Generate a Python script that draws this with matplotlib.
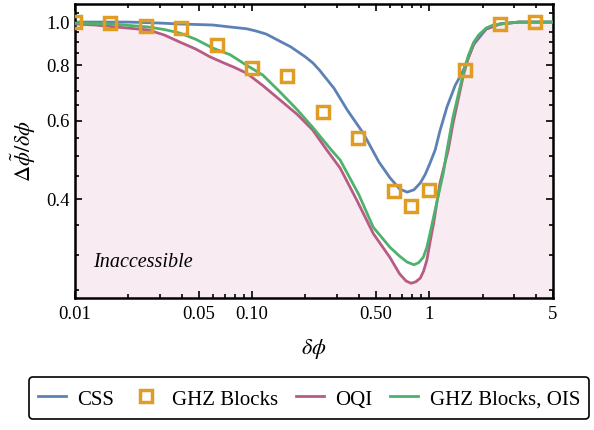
import numpy as np
import matplotlib
matplotlib.use('Agg')
import matplotlib.pyplot as plt
from matplotlib.ticker import FixedLocator, FixedFormatter, NullFormatter

# values (log-log axes)
css_x = [0.01, 0.02, 0.03, 0.039, 0.06, 0.075, 0.093, 0.105, 0.12, 0.144, 0.165, 0.2,
         0.22, 0.24, 0.29, 0.345, 0.424, 0.52, 0.60, 0.68, 0.75, 0.82, 0.89, 0.95,
         1.01, 1.08, 1.15, 1.26, 1.4, 1.56, 1.78, 2.1, 2.5, 3.2, 5.0]
css_y = [1.0, 1.0, 0.995, 0.99, 0.985, 0.975, 0.966, 0.955, 0.94, 0.905, 0.88, 0.835,
         0.81, 0.78, 0.71, 0.634, 0.563, 0.485, 0.447, 0.422, 0.415, 0.42, 0.435, 0.455,
         0.482, 0.516, 0.57, 0.645, 0.72, 0.78, 0.89, 0.965, 0.99, 1.0, 1.0]

ghz_x = [0.01, 0.0158, 0.0251, 0.0398, 0.0631, 0.1, 0.158, 0.251, 0.398, 0.631,
         0.794, 1.0, 1.585, 2.512, 3.981]
ghz_y = [1.0, 0.995, 0.98, 0.968, 0.89, 0.79, 0.756, 0.628, 0.549, 0.417,
         0.386, 0.42, 0.78, 0.99, 1.0]

oqi_x = [0.01, 0.013, 0.017, 0.026, 0.032, 0.039, 0.048, 0.058, 0.069, 0.08, 0.093,
         0.115, 0.144, 0.18, 0.22, 0.264, 0.314, 0.39, 0.483, 0.60, 0.68, 0.74, 0.79,
         0.84, 0.89, 0.93, 0.97, 1.01, 1.06, 1.15, 1.28, 1.36, 1.56, 1.66, 1.78, 1.9,
         2.1, 2.5, 3.2, 5.0]
oqi_y = [0.99, 0.985, 0.975, 0.96, 0.935, 0.902, 0.87, 0.835, 0.81, 0.79, 0.768,
         0.72, 0.668, 0.62, 0.572, 0.516, 0.47, 0.398, 0.335, 0.296, 0.272, 0.262, 0.259,
         0.261, 0.266, 0.276, 0.292, 0.32, 0.354, 0.435, 0.516, 0.59, 0.76, 0.83, 0.89, 0.93,
         0.965, 0.99, 1.0, 1.0]

ois_x = [0.01, 0.016, 0.026, 0.032, 0.039, 0.048, 0.06, 0.075, 0.093, 0.115, 0.144,
         0.18, 0.22, 0.28, 0.314, 0.40, 0.483, 0.60, 0.68, 0.75, 0.82, 0.87, 0.925,
         0.97, 1.01, 1.11, 1.2, 1.26, 1.36, 1.56, 1.66, 1.78, 1.9, 2.1, 2.3, 2.5,
         3.2, 5.0]
ois_y = [0.995, 0.99, 0.975, 0.962, 0.945, 0.915, 0.874, 0.845, 0.80, 0.76, 0.696,
         0.635, 0.58, 0.516, 0.49, 0.41, 0.346, 0.312, 0.298, 0.289, 0.285, 0.288, 0.296,
         0.312, 0.335, 0.398, 0.457, 0.516, 0.61, 0.77, 0.84, 0.90, 0.935, 0.97, 0.985, 0.99,
         1.0, 1.0]

xticks = [0.01, 0.05, 0.1, 0.5, 1, 5]
xticklabels = ['0.01', '0.05', '0.10', '0.50', '1', '5']
yticks = [0.4, 0.6, 0.8, 1.0]
yticklabels = ['0.4', '0.6', '0.8', '1.0']

plt.rcParams['font.family'] = ['Liberation Serif', 'DejaVu Serif']
plt.rcParams['mathtext.fontset'] = 'stix'

blue = '#5E81B5'
orange = '#E19C24'
red = '#B85B85'
green = '#4DB26B'

fig = plt.figure(figsize=(5.94, 4.30), dpi=100)
ax = fig.add_axes([0.1263, 0.307, 0.8047, 0.6837])

# shaded region under the OQI bound
ax.fill_between(oqi_x, oqi_y, 0.1, color='#F8ECF2', lw=0, zorder=0)

ax.plot(css_x, css_y, color=blue, lw=2, label='CSS', zorder=2)
ax.plot(ghz_x, ghz_y, ls='none', marker='s', ms=8.5, mfc='none', mec=orange, mew=2.5,
        label='GHZ Blocks', zorder=5)
ax.plot(oqi_x, oqi_y, color=red, lw=2, label='OQI', zorder=3)
ax.plot(ois_x, ois_y, color=green, lw=2, label='GHZ Blocks, OIS', zorder=4)

ax.set_xscale('log')
ax.set_yscale('log')
ax.set_xlim(0.01, 5)
ax.set_ylim(0.24, 1.098)

ax.xaxis.set_major_locator(FixedLocator(xticks))
ax.xaxis.set_major_formatter(FixedFormatter(xticklabels))
xminor = [k * 10.0**e for e in (-2, -1, 0) for k in range(2, 10)]
ax.xaxis.set_minor_locator(FixedLocator([v for v in xminor if v < 5]))
ax.xaxis.set_minor_formatter(NullFormatter())

ax.yaxis.set_major_locator(FixedLocator(yticks))
ax.yaxis.set_major_formatter(FixedFormatter(yticklabels))
yminor = [round(0.25 + 0.05 * i, 2) for i in range(17)]
ax.yaxis.set_minor_locator(FixedLocator([v for v in yminor if v not in yticks]))
ax.yaxis.set_minor_formatter(NullFormatter())

ax.tick_params(which='both', direction='in', top=True, right=True, labelsize=13.5, width=1.2)
ax.tick_params(which='major', length=5)
ax.tick_params(which='minor', length=3)
ax.tick_params(axis='x', pad=6)
ax.tick_params(axis='y', pad=4)
for s in ax.spines.values():
    s.set_linewidth(1.8)

ax.set_xlabel(r'$\delta\phi$', fontsize=16, labelpad=10)
ax.set_ylabel(r'$\Delta\tilde{\phi}/\delta\phi$', fontsize=16, labelpad=6)

ax.text(0.0126, 0.289, 'Inaccessible', fontsize=14.5, style='italic', ha='left', va='center')

leg = fig.legend(loc='center', bbox_to_anchor=(309 / 594, 1 - 398 / 430), ncol=4,
                 fontsize=15, handlelength=1.35, handletextpad=0.55, columnspacing=0.85,
                 handleheight=1.3, frameon=True, fancybox=True, borderpad=0.45)
leg.get_frame().set_edgecolor('black')
leg.get_frame().set_linewidth(1.2)
leg.get_frame().set_alpha(1)

fig.savefig('out.png', dpi=100)
